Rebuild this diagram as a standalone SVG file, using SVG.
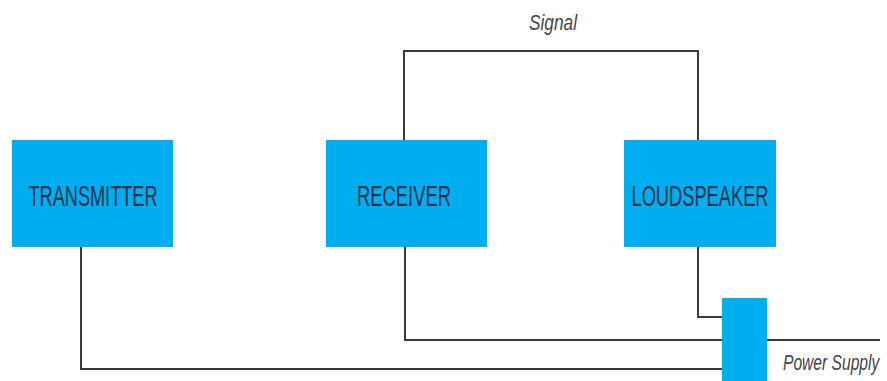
<svg xmlns="http://www.w3.org/2000/svg" width="887" height="381" viewBox="0 0 887 381">
  <style>
    .box { fill: #00AEEF; }
    .lbl { font-family: "Liberation Sans", Arial, sans-serif; font-size: 29px; fill: #16344F; text-anchor: middle; }
    .note { font-family: "Liberation Sans", Arial, sans-serif; font-size: 22px; font-style: italic; fill: #444444; }
    .wire { fill: none; stroke: #3a3a3a; stroke-width: 2; }
  </style>
  <rect width="887" height="381" fill="#ffffff"/>
  <g id="connectors">
    <polyline class="wire" points="404,140 404,51 698,51 698,140"/>
    <polyline class="wire" points="81,247 81,369 724,369"/>
    <polyline class="wire" points="405,247 405,340 880,340"/>
    <polyline class="wire" points="698,247 698,317 724,317"/>
  </g>
  <g id="transmitter">
    <rect class="box" x="12" y="140" width="161" height="107"/>
    <text class="lbl" x="93" y="206" textLength="129" lengthAdjust="spacingAndGlyphs">TRANSMITTER</text>
  </g>
  <g id="receiver">
    <rect class="box" x="326" y="140" width="161" height="107"/>
    <text class="lbl" x="404" y="206" textLength="94" lengthAdjust="spacingAndGlyphs">RECEIVER</text>
  </g>
  <g id="loudspeaker">
    <rect class="box" x="624" y="140" width="152" height="107"/>
    <text class="lbl" x="700" y="206" textLength="137" lengthAdjust="spacingAndGlyphs">LOUDSPEAKER</text>
  </g>
  <g id="power-supply">
    <rect class="box" x="722" y="298" width="45" height="83"/>
    <text class="note" transform="translate(783,370) scale(0.71,1)" x="0" y="0">Power Supply</text>
  </g>
  <g id="signal-label">
    <text class="note" x="529" y="30" textLength="48" lengthAdjust="spacingAndGlyphs">Signal</text>
  </g>
</svg>
